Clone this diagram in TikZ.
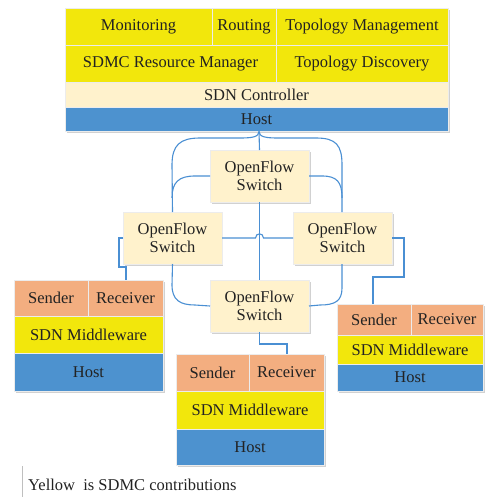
\documentclass[tikz,border=0pt]{standalone}
\usepackage{fontspec}
\setmainfont{Liberation Serif}
\newfontfamily\tnrfont{Liberation Serif}
\definecolor{cyel}{HTML}{F2E70C}
\definecolor{ccream}{HTML}{FFF2CC}
\definecolor{cblue}{HTML}{4D92CF}
\definecolor{corange}{HTML}{F3AE80}
\definecolor{cline}{HTML}{4A8FD3}
\definecolor{ctext}{HTML}{222222}
\begin{document}
\begin{tikzpicture}[x=1pt,y=-1pt,
  font=\tnrfont\fontsize{16.5}{18}\selectfont, text=ctext,
  cellbox/.style={draw=white!85!gray, line width=0.8pt, inner sep=0pt, outer sep=0pt, anchor=north west},
  shadowbox/.style={fill=black!18, draw=none},
  link/.style={draw=cline, line width=1.1pt}]
\useasboundingbox (0,0) rectangle (484,497);

\newcommand{\myshadow}[4]{\fill[shadowbox] (#1+2,#2+2) rectangle (#3+2,#4+2);}

% ---------- top controller block ----------
\myshadow{65}{8}{448}{131}
\node[cellbox, fill=cyel, minimum width=147pt, minimum height=37pt] (mon) at (65,8) {Monitoring};
\node[cellbox, fill=cyel, minimum width=64pt, minimum height=37pt] (rout) at (212,8) {Routing};
\node[cellbox, fill=cyel, minimum width=172pt, minimum height=37pt] (topm) at (276,8) {Topology Management};
\node[cellbox, fill=cyel, minimum width=211pt, minimum height=37pt] (rm) at (65,45) {SDMC Resource Manager};
\node[cellbox, fill=cyel, minimum width=172pt, minimum height=37pt] (td) at (276,45) {Topology Discovery};
\node[cellbox, fill=ccream, minimum width=383pt, minimum height=25pt] (ctrl) at (65,82) {SDN Controller};
\node[cellbox, fill=cblue, minimum width=383pt, minimum height=24pt] (host) at (65,107) {Host};

% ---------- switches ----------
\myshadow{210}{150}{309}{202}
\myshadow{123}{212}{221}{264}
\myshadow{293}{212}{392}{264}
\myshadow{210}{280}{309}{332}
\tikzset{swbox/.style={cellbox, fill=ccream, minimum width=99pt, minimum height=52pt, align=center}}
\node[swbox] (sT) at (210,150) {OpenFlow\\Switch};
\node[swbox] (sL) at (123,212) {OpenFlow\\Switch};
\node[swbox] (sR) at (293,212) {OpenFlow\\Switch};
\node[swbox] (sB) at (210,280) {OpenFlow\\Switch};

% ---------- left host group ----------
\myshadow{14}{280}{163}{391}
\node[cellbox, fill=corange, minimum width=74pt, minimum height=36pt] (lS) at (14,280) {Sender};
\node[cellbox, fill=corange, minimum width=75pt, minimum height=36pt] (lR) at (88,280) {Receiver};
\node[cellbox, fill=cyel, minimum width=149pt, minimum height=37pt] (lM) at (14,316) {SDN Middleware};
\node[cellbox, fill=cblue, minimum width=149pt, minimum height=38pt] (lH) at (14,353) {Host};

% ---------- right host group ----------
\myshadow{337}{304}{483}{391}
\node[cellbox, fill=corange, minimum width=74pt, minimum height=31pt] (rS) at (337,304) {Sender};
\node[cellbox, fill=corange, minimum width=72pt, minimum height=31pt] (rR) at (411,304) {Receiver};
\node[cellbox, fill=cyel, minimum width=146pt, minimum height=29pt] (rM) at (337,335) {SDN Middleware};
\node[cellbox, fill=cblue, minimum width=146pt, minimum height=27pt] (rH) at (337,364) {Host};

% ---------- bottom host group ----------
\myshadow{176}{354}{324}{465}
\node[cellbox, fill=corange, minimum width=73pt, minimum height=37pt] (bS) at (176,354) {Sender};
\node[cellbox, fill=corange, minimum width=75pt, minimum height=37pt] (bR) at (249,354) {Receiver};
\node[cellbox, fill=cyel, minimum width=148pt, minimum height=38pt] (bM) at (176,391) {SDN Middleware};
\node[cellbox, fill=cblue, minimum width=148pt, minimum height=36pt] (bH) at (176,429) {Host};

% ---------- connectors ----------
\coordinate (cusp) at (259,131.5);
\coordinate (lIn) at (126,280);
\coordinate (rIn) at (373,304);
\coordinate (bIn) at (287,354);

\draw[link] (cusp) -- (sT.north);
\draw[link] (cusp) .. controls (259,137) and (252,138) .. (240,138) -- (200,138)
  .. controls (180,138) and (172,145) .. (172,165) -- (sL.north);
\draw[link] (cusp) .. controls (259,137) and (266,138) .. (278,138) -- (316,138)
  .. controls (336,138) and (342,145) .. (342,165) -- (sR.north -| 342,0);
\draw[link] (sT.west) -- (195,176) .. controls (179,176) and (172,182) .. (172,198);
\draw[link] (sT.east) -- (322,176) .. controls (337,176) and (342,182) .. (342,198);
\draw[link] (sL.south) -- (172,285) .. controls (172,300) and (180,305) .. (195,305) -- (sB.west);
\draw[link] (sR.south -| 342,0) -- (342,288) .. controls (342,301) and (335,305) .. (320,305) -- (sB.east);
\draw[link] (sT.south) -- (sB.north);
\draw[link] (sL.east) -- (255.5,238) .. controls (255.5,232.5) and (263.5,232.5) .. (263.5,238) -- (sR.west);
\draw[link] (sL.west) -- (119,238) -- (119,267) -- (126,267) -- (lIn);
\draw[link] (sR.east) -- (404,238) -- (404,277) -- (373,277) -- (rIn);
\draw[link] (sB.south) -- (259.5,344) -- (287,344) -- (bIn);

% ---------- caption ----------
\draw[black!25, line width=0.8pt] (22,466) -- (22,497);
\node[anchor=base west, inner sep=0pt] (cap) at (28,490) {Yellow\ \ is SDMC contributions};
\end{tikzpicture}
\end{document}
